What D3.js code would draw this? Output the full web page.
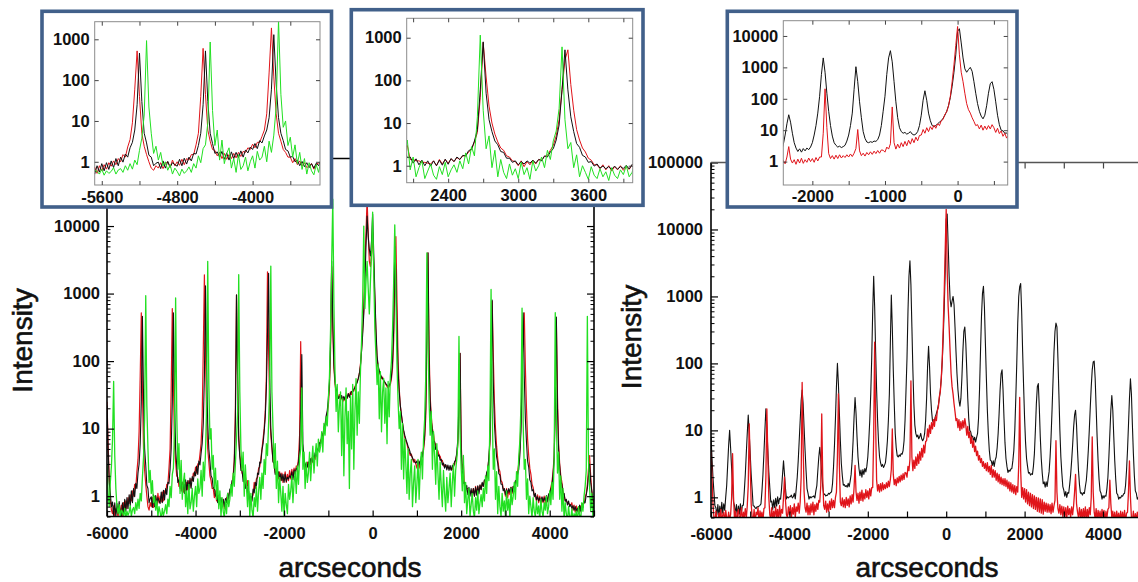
<!DOCTYPE html>
<html>
<head>
<meta charset="utf-8">
<title>Intensity vs arcseconds</title>
<script src="https://cdn.jsdelivr.net/npm/d3@7"></script>
<style>
  html, body { margin: 0; padding: 0; background: #fff; }
  svg { display: block; }
  .tick text { font-family: "Liberation Sans", Arial, Helvetica, sans-serif; font-weight: bold; font-size: 16.5px; fill: #111; }
  .title { font-family: "Liberation Sans", Arial, Helvetica, sans-serif; font-size: 28px; fill: #111; stroke: #111; stroke-width: 0.6px; }
</style>
</head>
<body>
<svg id="chart" width="1138" height="582"></svg>
<script>
// Spectra sampled every 25 arcsec; each row holds 20 samples (500 arcsec), rows start at -6000.
const X0 = -6000, ROW_SPAN = 500, STEP = 25;

// Left panel: three scans (red, black, green)
const leftRed = [
  [25,6,1.8,0.9,0.62,0.55,0.72,0.5,0.66,0.58,0.5,0.7,0.56,0.74,0.52,0.8,0.6,0.85,0.66,0.95],
  [0.78,1.05,0.85,1.2,1.0,1.5,1.3,2.3,3.5,9,60,520,40,5,2.4,1.5,1.0,0.7,0.62,0.8],
  [0.7,0.95,0.68,0.9,1.0,0.72,1.1,0.8,1.0,0.82,1.15,0.85,1.2,1.1,1.5,1.5,2.6,5,40,600],
  [45,6,3.2,2.0,1.9,1.4,1.7,1.2,1.6,1.15,1.5,1.2,1.6,1.25,1.7,1.35,1.8,1.7,2.2,2.0],
  [2.7,2.2,3.0,3.0,4.2,6,15,150,1900,120,15,5,3.2,2.0,1.7,1.3,1.3,0.95,1.2,0.85],
  [1.05,0.8,0.95,0.72,0.8,0.9,0.66,0.85,0.95,0.78,1.05,1.2,1.25,1.6,2.0,3.5,20,950,60,8],
  [4,3.2,2.2,2.1,1.6,2.0,1.4,1.7,1.05,0.82,0.75,0.95,1.05,1.6,1.3,1.8,1.9,2.6,2.7,3.6],
  [5,7,10,18,60,2100,150,20,8,5.2,3.3,3.0,2.2,2.1,2.4,1.8,2.3,1.7,2.2,1.6],
  [1.9,2.3,1.6,2.1,1.7,2.4,1.8,2.5,1.9,2.6,2.1,2.8,2.7,3.6,8,195,9,4.2,3.0,2.9],
  [2.5,3.2,2.6,3.4,2.9,3.7,3.2,4.0,3.5,4.4,4.3,5.3,5.3,6.8,6.8,8.4,8.8,11.5,12.5,16.5],
  [22,40,150,2500,300,80,45,35,30,28,32,27,30,25,29,26,31,28,33,30],
  [35,32,38,36,42,45,50,55,65,90,150,300,600,3000,8000,25000,8000,3000,2500,4000],
  [8000,2500,800,250,110,80,70,62,55,58,50,48,45,42,40,42,45,55,80,200],
  [1500,7000,800,100,40,22,16,12,9,7.5,6.5,6,5,4.5,4,4.2,3.6,3.2,3.5,3.0],
  [2.6,3.4,2.6,3.2,3.4,4.2,4.8,7,15,200,4000,150,30,15,10,8.4,6.2,5.8,4.8,4.7],
  [4.0,3.9,3.3,3.4,2.8,2.9,2.8,2.8,2.6,2.7,2.5,2.6,2.5,3.0,2.9,3.5,4,6,15,130],
  [6,2.5,3.0,1.4,1.4,1.3,1.3,1.2,1.2,1.15,1.1,1.3,1.0,1.4,1.1,1.4,1.15,1.45,1.25,1.55],
  [1.4,1.7,1.7,2.1,2.4,3.6,6,40,770,120,25,10,5.5,3.6,2.6,2.3,1.7,1.6,1.3,1.25],
  [1.0,1.3,0.95,1.25,1.05,1.35,1.1,1.4,1.35,1.65,1.75,2.3,3.0,5,12,60,300,520,80,20],
  [7,4,2.6,2.1,1.5,1.35,1.05,1.05,0.85,1.05,0.8,1.0,0.75,0.95,0.8,1.0,0.78,0.95,0.82,1.05],
  [1.1,1.35,1.6,2.3,4,30,370,30,6,3,2,1.6,1.15,1.05,0.85,0.85,0.8,0.78,0.75,0.74],
  [0.8,0.62,0.74,0.58,0.72,0.6,0.7,0.57,0.72,0.63,0.78,0.78,0.95,1.1,1.5,2.5,4,2,1.2,0.9],
  [0.8]
];

const leftBlack = [
  [22,5,1.6,1.1,0.7,0.82,0.52,0.8,0.5,0.78,0.55,0.83,0.58,0.5,0.8,0.56,0.9,0.6,0.95,0.65],
  [1.05,0.72,1.2,0.8,1.3,0.98,1.55,1.3,2.2,3,6,25,460,30,5,2.9,1.45,1.3,0.8,0.92],
  [0.98,0.68,1.05,0.7,1.02,0.74,0.95,0.85,0.78,1.15,0.8,1.22,0.88,1.3,1.05,1.6,1.55,2.5,5,25],
  [520,30,5,2.8,1.6,1.75,1.3,1.8,1.15,1.65,1.1,1.75,1.2,1.7,1.25,1.85,1.3,1.95,1.65,2.3],
  [2.0,2.8,2.1,3.3,2.9,4.3,6,12,60,1300,80,12,5,3.3,2.0,1.85,1.3,1.35,1.0,1.1],
  [0.8,1.02,0.76,0.95,0.72,0.9,0.7,0.92,0.8,1.1,0.92,1.28,1.15,1.7,1.7,3.2,12,960,50,7],
  [3.8,2.4,2.4,1.65,1.85,1.3,1.6,1.05,1.18,0.78,1.0,0.84,1.28,1.12,1.6,1.4,2.2,2.1,3.2,3.1],
  [4.8,6,9,15,40,250,2000,60,10,5.5,3.2,3.1,2.1,2.35,1.85,2.3,1.75,2.15,1.7,2.1],
  [1.6,2.1,1.65,1.9,1.8,2.0,1.9,2.3,1.75,2.45,2.1,2.6,2.45,3.2,5,20,125,6,3.7,2.7],
  [3.1,2.7,3.2,2.9,3.6,3.1,3.9,3.5,4.4,3.9,5.0,4.8,6.2,6.0,7.8,8.0,10.5,11.5,15.5,18.5],
  [28,50,200,3000,400,90,50,38,34,28,30,27.5,31,26,30,27,31,28.5,33,29],
  [33,35.5,35,38.5,40,44,48,55,65,85,140,250,500,1500,5000,14000,7000,4500,3600,6000],
  [15000,4000,1000,300,120,85,72,64,58,55,52,49,46,44,42,44,48,60,100,300],
  [5000,2000,300,70,35,22,16,12,9.5,8,7,6.2,5.5,5,4.4,4.0,3.7,3.4,3.2,3.1],
  [3.3,2.8,3.3,2.9,3.9,3.8,5.3,8,20,300,4000,100,25,13,9.5,6.6,6.4,4.9,4.9,3.9],
  [4.1,3.4,3.5,2.9,3.1,2.6,2.95,2.45,2.9,2.4,2.85,2.4,2.85,2.65,3.25,3.4,4.4,7,25,130],
  [5,2.4,1.55,1.6,1.15,1.45,1.05,1.35,1.0,1.3,0.98,1.3,1.0,1.35,1.03,1.42,1.08,1.47,1.25,1.6],
  [1.4,1.75,1.7,2.25,2.45,3.8,7,60,800,50,12,6.3,3.8,3.1,2.15,2.05,1.5,1.5,1.2,1.3],
  [1.05,1.25,1.1,1.3,1.15,1.35,1.15,1.4,1.3,1.7,1.6,2.1,2.5,4,9,60,520,60,14,6.3],
  [3.3,2.7,1.75,1.6,1.2,1.25,0.98,1.1,0.88,0.98,0.85,0.95,0.82,0.98,0.83,0.95,0.86,1.02,0.84,1.08],
  [0.98,1.28,1.4,2.1,3.5,20,450,20,5,2.8,1.65,1.5,1.05,1.1,0.84,0.9,0.74,0.85,0.7,0.75],
  [0.66,0.72,0.62,0.7,0.6,0.66,0.55,0.74,0.6,0.78,0.68,0.84,0.8,1.05,1.3,2,3,1.6,1.2,0.85],
  [0.85]
];

const leftGreen = [
  [3,1.1,0.7,1.6,2.8,7,50,4,1.3,0.7,0.55,0.75,0.48,0.62,0.58,0.5,0.66,0.47,0.6,0.52],
  [0.58,0.72,0.5,0.63,0.68,0.55,0.8,0.62,0.9,0.66,1.1,0.85,1.9,3.8,14,930,22,5,1.6,2.4],
  [1.1,1.7,0.8,1.0,0.62,0.85,0.5,0.7,0.58,0.45,0.66,0.52,0.6,0.75,0.55,0.9,0.7,1.4,0.95,2.1],
  [2.6,9,860,18,2.5,6,1.1,3.4,0.9,1.6,2.2,0.7,1.2,0.55,1.5,0.65,0.8,1.3,0.6,1.0],
  [1.4,0.7,1.8,1.1,1.3,2.4,1.0,3.2,1.7,4.5,22,3000,45,7,10,2.5,4,1.3,2.6,0.9],
  [1.7,0.65,1.2,0.5,0.95,0.6,0.48,0.85,0.55,1.1,0.7,0.9,1.5,1.0,2.2,1.4,3,7,18,1900],
  [35,5,2.4,4.5,1.0,2.9,1.4,0.7,1.7,0.5,1.1,0.62,0.48,0.95,0.7,1.4,0.6,1.2,1.9,0.9],
  [2.2,1.3,3.5,2.1,6,4,12,45,2550,35,10,2.6,6,1.3,3.3,0.8,1.9,1.1,0.6,1.4],
  [0.5,1.1,0.75,0.55,1.5,0.9,1.2,2.0,0.8,1.6,2.3,1.1,2.8,1.5,3.6,5,40,2.5,4.5,1.3],
  [3.2,1.6,2.2,4.5,1.7,3.3,5.5,2.2,4,6,2.8,7,4.5,5.5,9,4.5,12,8,15,11],
  [28,60,300,3000,25000,700,70,18,45,9,22,35,4,28,2,15,40,6,18,1.3],
  [30,5,45,2.5,18,55,8,35,12,70,200,800,10000,600,1500,3000,1200,500,1500,4000],
  [16000,2000,300,120,45,90,14,70,9,35,55,12,40,6,50,15,60,100,300,1500],
  [10400,1000,90,25,10,18,2.5,12,1.8,7,3,1.1,5,0.9,2.2,3.5,0.7,1.6,2.8,0.8],
  [1.5,3.5,0.9,2.5,4.5,1.8,7,14,60,4000,220,25,8,18,2.5,9,4,1.5,6,2.2],
  [0.9,3.2,1.4,0.7,2.4,1.1,0.6,1.9,0.8,1.3,2.2,0.7,1.6,3,1.0,2.4,3.5,6,232,9],
  [2.6,1.2,4,0.8,1.6,0.55,0.9,1.3,0.5,0.75,1.1,0.6,0.48,0.95,0.62,1.2,0.55,0.8,1.05,0.7],
  [1.3,0.85,2.0,1.1,2.8,1.7,14,1150,20,2.5,5,0.9,2.3,0.55,1.4,0.7,0.5,1.1,0.6,0.85],
  [0.5,1.2,0.62,0.9,0.48,1.3,0.75,1.0,1.6,0.9,2.3,1.4,3.8,6.5,22,610,12,2.5,3.5,0.9],
  [1.8,0.55,1.0,0.7,0.48,0.95,0.6,0.5,0.85,0.55,0.72,0.45,0.9,0.6,0.5,0.8,0.62,1.0,0.55,0.7],
  [1.2,0.75,1.6,0.9,3.5,520,14,2.2,4.5,0.9,2.0,0.6,1.3,0.45,0.8,0.55,0.42,0.7,0.5,0.45],
  [0.65,0.42,0.55,0.48,0.6,0.4,0.7,0.52,0.45,0.8,0.6,1.0,1.4,2.4,460,3.5,1.4,0.6,1.1,0.5],
  [0.8]
];

// Right panel: two scans (black, red)
const rightBlack = [
  [8,4,2,1.2,0.75,0.7,0.54,0.78,0.52,0.74,0.56,0.84,0.58,0.8,0.64,1.0,1.5,3,6,10],
  [5.5,2.8,1.5,0.85,0.75,0.56,0.78,0.52,0.74,0.56,0.8,0.58,0.76,0.76,1.25,2.2,4.5,9,17,9],
  [4.5,2.2,1.3,0.75,0.74,0.7,0.68,0.72,0.72,0.74,0.76,0.8,1.25,2.2,4.5,10,21,11,5,2.4],
  [1.4,0.85,0.88,0.66,0.92,0.7,0.97,0.74,1.02,0.8,0.97,0.94,1.35,2.2,3.5,2.2,1.35,0.95,1.02,0.98],
  [1.02,1.02,1.08,0.98,1.02,1.15,0.95,1.35,2.0,3.5,7,14,28,40,25,11,5,2.5,1.35,1.15],
  [0.94,1.03,0.98,1.02,1.02,1.05,0.98,1.25,1.5,2.5,4,5.6,3.8,2.2,1.45,1.1,1.12,1.05,1.07,1.08],
  [1.15,1.12,1.18,1.2,1.6,2.8,6,15,45,100,50,18,7,3.2,2.1,1.52,1.55,1.45,1.5,1.42],
  [1.62,1.44,1.75,2.2,3.5,7,16,31,18,8,4,2.7,2.1,2.55,2.0,2.6,2.2,2.7,2.4,2.9],
  [4,7,14,35,120,600,2000,700,150,40,14,6.5,4,3.3,2.9,3.1,2.8,3.0,3.3,4.5],
  [7,14,35,200,1050,350,80,25,9,5.5,4.2,4.0,4.3,4.1,4.5,4.4,5,7,14,40],
  [120,600,2000,3400,1500,350,80,25,12,9,8,8.5,7.5,8,9,7.5,7,7.5,9,14],
  [30,90,180,90,35,20,14,13,14,16,18,20,24,30,40,60,110,250,700,2500],
  [14000,17000,6000,2000,900,700,850,1000,750,350,150,70,40,28,23,30,60,150,300,350],
  [200,80,30,15,10,9.5,8,8.2,6.9,7.9,6.7,7.8,9,15,40,150,500,1100,1420,700],
  [200,60,20,9,5,3.6,3.5,3.0,3.5,2.9,3.6,4,5.5,9,18,40,70,80,40,15],
  [6.5,3.8,2.9,2.35,2.55,2.45,2.65,2.7,3.5,5,10,30,100,400,1000,1400,1560,600,150,45],
  [15,6.5,3.8,2.9,2.3,2.35,2.15,2.25,2.2,2.9,4.5,10,25,45,50,22,8,3.8,2.3,1.6],
  [1.7,1.42,1.7,1.45,1.9,2.4,4,8,20,55,150,300,400,350,120,35,10,4,2.3,1.45],
  [1.28,1.04,1.22,1.0,1.18,1.15,1.55,2.2,3.5,6,11,17,20,12,5,2.5,1.55,1.15,1.17,1.08],
  [1.18,1.14,1.45,1.8,2.8,5,10,22,45,80,105,108,60,22,8,3.5,1.85,1.25,1.15,0.94],
  [1.06,0.98,1.06,1.04,1.35,2,4,9,20,33,20,8,3.5,1.85,1.15,1.1,0.94,1.0,0.98,1.06],
  [1.04,1.12,1.15,1.5,2.5,5,12,30,59,35,12,4.5,2.1,1.25,1.15,0.94,1.0,0.92,1.04,0.95],
  [1.0]
];

const rightRed = [
  [5,2,0.8,0.5,0.42,0.62,0.47,0.38,0.58,0.5,0.66,0.42,0.55,0.6,0.4,0.64,0.5,0.44,0.6,0.46],
  [0.55,0.95,4.5,1.0,0.45,0.62,0.4,0.58,0.66,0.45,0.52,0.7,0.43,0.6,0.5,0.68,0.48,0.75,1.5,12.5],
  [3,0.8,0.5,0.44,0.66,0.4,0.6,0.55,0.7,0.42,0.63,0.5,0.6,0.44,0.68,0.7,2,21,4,1.0],
  [0.55,0.48,0.7,0.45,0.62,0.5,0.72,0.5,0.66,0.44,0.75,0.52,0.66,0.58,1.0,2.0,0.9,0.55,0.5,0.72],
  [0.55,0.75,0.48,0.7,0.56,0.8,0.5,0.72,0.62,0.82,0.58,0.85,2,52,6,1.2,0.7,0.6,0.82,0.55],
  [0.75,0.55,0.8,0.6,0.85,0.55,0.78,0.62,0.82,0.66,0.9,0.85,1.5,17.6,2,0.75,0.66,0.88,0.6,0.8],
  [0.62,0.88,0.66,0.95,0.7,0.9,0.7,1.0,1.2,4,35,3,0.85,0.75,0.98,0.72,0.92,0.7,1.0,0.76],
  [0.95,0.72,1.05,0.8,1.1,0.85,1.4,3,1.2,0.9,1.15,0.82,1.2,0.9,1.28,0.88,1.15,0.95,1.3,1.0],
  [1.25,0.95,1.35,1.05,1.4,1.4,8,208,12,1.8,1.25,1.55,1.2,1.6,1.25,1.65,1.3,1.55,1.35,1.65],
  [1.4,1.75,1.45,1.85,2.6,10.5,2.2,1.55,1.85,1.5,1.95,1.65,2.05,1.7,2.15,1.8,2.25,1.85,2.35,2.3],
  [2.0,2.9,2.5,3.7,55,4,2.5,3.6,2.7,4.0,3.0,4.4,3.2,4.8,3.6,5.4,4.0,6.0,4.6,6.8],
  [7,10.5,8,12,9,13,10.5,14.5,11.5,16,14,20,22,32,38,60,120,350,1200,5000],
  [20000,2500,700,350,150,70,45,35,25,19,14,15,11,14.5,10,13.5,10.5,14,11,15],
  [12,8.5,11.5,7.8,9.5,6.4,8,5.6,7,4.8,5.8,4.2,4.9,3.6,4.2,3.3,3.8,2.9,3.4,2.7],
  [3.2,2.5,3.3,2.4,2.9,2.2,3.0,2.0,2.6,2.0,2.5,1.8,2.3,1.7,2.2,1.6,2.0,1.55,1.9,1.5],
  [1.9,1.45,1.8,1.35,1.7,1.25,1.65,1.2,1.55,1.15,1.5,1.1,1.45,1.2,3,31,2.5,1.0,1.4,0.95],
  [1.35,0.85,1.3,0.8,1.2,0.75,1.15,0.72,1.1,0.68,1.05,0.66,1.0,0.62,0.98,0.6,0.95,0.58,0.92,0.56],
  [0.85,0.62,0.82,0.6,0.8,0.6,0.78,0.57,0.82,0.6,0.75,0.9,7,1.2,0.68,0.58,0.78,0.55,0.74,0.52],
  [0.72,0.5,0.7,0.48,0.74,0.55,0.68,0.5,0.72,0.55,0.75,1.2,2.2,0.8,0.6,0.5,0.7,0.48,0.66,0.46],
  [0.68,0.48,0.72,0.45,0.66,0.5,0.7,0.55,1.0,8,1.2,0.6,0.48,0.68,0.44,0.64,0.5,0.62,0.45,0.66],
  [0.5,0.64,0.44,0.62,0.5,0.66,0.7,1.8,0.8,0.5,0.62,0.45,0.6,0.42,0.62,0.47,0.58,0.43,0.62,0.45],
  [0.6,0.44,0.64,0.42,0.58,0.6,1.2,3.5,1.0,0.5,0.45,0.62,0.42,0.57,0.45,0.6,0.42,0.56,0.45,0.58],
  [0.5]
];

// Tick labels
const mainXLabels = [-6000, -4000, -2000, 0, 2000, 4000];
const leftYLabels = [1, 10, 100, 1000, 10000];
const rightYLabels = [1, 10, 100, 1000, 10000, 100000];
const inset1XLabels = [-5600, -4800, -4000];
const inset2XLabels = [2400, 3000, 3600];
const inset3XLabels = [-2000, -1000, 0];
const inset12YLabels = [1, 10, 100, 1000];
const inset3YLabels = [1, 10, 100, 1000, 10000];

const COLORS = { red: "#e0141a", black: "#111111", green: "#22e022", frame: "#000", insetBorder: "#41608a", insetFrame: "#8c8c8c" };

function toPoints(rows) {
  return rows.flatMap((row, r) => row.map((v, i) => [X0 + r * ROW_SPAN + i * STEP, v]));
}
const series = {
  leftRed: toPoints(leftRed), leftBlack: toPoints(leftBlack), leftGreen: toPoints(leftGreen),
  rightBlack: toPoints(rightBlack), rightRed: toPoints(rightRed)
};

const svg = d3.select("#chart");
const defs = svg.append("defs");
let clipCount = 0;

function scalesFor(p) {
  return {
    x: d3.scaleLinear().domain(p.xDomain).range([p.left, p.right]),
    y: d3.scaleLog().domain(p.yDomain).range([p.bottom, p.top])
  };
}

function logSteps(domain) {
  const out = [];
  for (let e = -1; e <= 5; e++) {
    for (let k = 1; k < 10; k++) {
      const v = k * Math.pow(10, e);
      if (v >= domain[0] * 0.999 && v <= domain[1] * 1.001) out.push({ v, major: k === 1 });
    }
  }
  return out;
}

function drawLines(g, p, s, list) {
  const id = "plotclip" + (clipCount++);
  defs.append("clipPath").attr("id", id).append("rect")
    .attr("x", p.left).attr("y", p.top)
    .attr("width", p.right - p.left).attr("height", p.bottom - p.top);
  const line = d3.line().x(d => s.x(d[0])).y(d => s.y(d[1]));
  const lg = g.append("g").attr("clip-path", `url(#${id})`);
  list.forEach(item => {
    const pts = item.data.filter(d => d[0] >= p.xDomain[0] - 60 && d[0] <= p.xDomain[1] + 60);
    lg.append("path")
      .attr("d", line(pts))
      .attr("fill", "none")
      .attr("stroke", item.color)
      .attr("stroke-width", item.width || 1)
      .attr("stroke-linejoin", "round");
  });
}

function styleAxis(sel, color, width) {
  sel.select(".domain").remove();
  sel.attr("font-size", null).attr("font-family", null);
  sel.selectAll(".tick line").attr("stroke", color).attr("stroke-width", width);
  sel.selectAll(".tick text").attr("fill", "#111");
}

// ---------- main panels ----------
function drawMain(p) {
  const s = scalesFor(p);
  const g = svg.append("g");
  drawLines(g, p, s, p.lines);

  const xTicks = d3.range(-6000, 5001, 1000);
  const bottom = g.append("g").attr("transform", `translate(0,${p.bottom})`)
    .call(d3.axisBottom(s.x).tickValues(xTicks).tickSizeInner(-6).tickSizeOuter(0)
      .tickPadding(p.xPad).tickFormat(d => mainXLabels.includes(d) ? String(d) : ""));
  styleAxis(bottom, "#000", 1.2);

  const ySteps = logSteps(p.yDomain);
  const majors = ySteps.filter(d => d.major).map(d => d.v);
  const minors = ySteps.filter(d => !d.major).map(d => d.v);

  const leftMajor = g.append("g").attr("transform", `translate(${p.left},0)`)
    .call(d3.axisLeft(s.y).tickValues(majors).tickSizeInner(-7).tickSizeOuter(0)
      .tickPadding(p.yPad).tickFormat(d => p.yLabels.includes(d) ? String(d) : ""));
  styleAxis(leftMajor, "#000", 1.2);
  const leftMinor = g.append("g").attr("transform", `translate(${p.left},0)`)
    .call(d3.axisLeft(s.y).tickValues(minors).tickSizeInner(-3.5).tickSizeOuter(0).tickFormat(""));
  styleAxis(leftMinor, "#000", 1);

  if (p.rightAxis) {
    const rMajor = g.append("g").attr("transform", `translate(${p.right},0)`)
      .call(d3.axisRight(s.y).tickValues(majors).tickSizeInner(-7).tickSizeOuter(0).tickFormat(""));
    styleAxis(rMajor, "#000", 1.2);
    const rMinor = g.append("g").attr("transform", `translate(${p.right},0)`)
      .call(d3.axisRight(s.y).tickValues(minors).tickSizeInner(-3.5).tickSizeOuter(0).tickFormat(""));
    styleAxis(rMinor, "#000", 1);
  }
  if (p.topTicks) {
    const top = g.append("g").attr("transform", `translate(0,${p.top})`)
      .call(d3.axisTop(s.x).tickValues(xTicks).tickSizeInner(-6).tickSizeOuter(0).tickFormat(""));
    styleAxis(top, "#444", 1.2);
  }

  // frame
  const fr = g.append("g").attr("stroke", COLORS.frame).attr("stroke-width", 1.6).attr("fill", "none");
  fr.append("line").attr("x1", p.left).attr("x2", p.left).attr("y1", p.top).attr("y2", p.bottom);
  fr.append("line").attr("x1", p.left).attr("x2", p.right).attr("y1", p.bottom).attr("y2", p.bottom);
  fr.append("line").attr("x1", p.left).attr("x2", p.right).attr("y1", p.top).attr("y2", p.top)
    .attr("stroke", p.topColor || "#000").attr("stroke-width", 1.3);
  if (p.rightAxis) fr.append("line").attr("x1", p.right).attr("x2", p.right).attr("y1", p.top).attr("y2", p.bottom);

  // axis titles
  svg.append("text").attr("class", "title")
    .attr("transform", `translate(${p.yTitle[0]},${p.yTitle[1]}) rotate(-90)`)
    .attr("text-anchor", "middle").attr("dominant-baseline", "central").text("Intensity");
  svg.append("text").attr("class", "title")
    .attr("x", p.xTitle[0]).attr("y", p.xTitle[1]).attr("text-anchor", "middle").text("arcseconds");
}

drawMain({
  left: 107, right: 594, top: 158.5, bottom: 516.5,
  xDomain: [-6000, 5000], yDomain: [0.5, 100000],
  yLabels: leftYLabels, xPad: 10.5, yPad: 7,
  rightAxis: true, topTicks: false,
  yTitle: [22.5, 340.5], xTitle: [350, 577],
  lines: [
    { data: series.leftRed, color: COLORS.red, width: 1.2 },
    { data: series.leftBlack, color: COLORS.black, width: 1.1 },
    { data: series.leftGreen, color: COLORS.green, width: 1.3 }
  ]
});

drawMain({
  left: 711, right: 1142.2, top: 162.5, bottom: 517.5,
  xDomain: [-6000, 5000], yDomain: [0.5, 100000],
  yLabels: rightYLabels, xPad: 11, yPad: 8,
  rightAxis: false, topTicks: true, topColor: "#555",
  yTitle: [631, 337], xTitle: [927, 577],
  lines: [
    { data: series.rightBlack, color: COLORS.black, width: 1.1 },
    { data: series.rightRed, color: COLORS.red, width: 1.3 }
  ]
});

// ---------- insets ----------
function drawInset(p) {
  const g = svg.append("g");
  g.append("rect")
    .attr("x", p.box[0]).attr("y", p.box[1])
    .attr("width", p.box[2] - p.box[0]).attr("height", p.box[3] - p.box[1])
    .attr("fill", "#fff").attr("stroke", COLORS.insetBorder).attr("stroke-width", 3.6);
  const s = scalesFor(p);
  drawLines(g, p, s, p.lines);

  g.append("rect").attr("x", p.left).attr("y", p.top)
    .attr("width", p.right - p.left).attr("height", p.bottom - p.top)
    .attr("fill", "none").attr("stroke", COLORS.insetFrame).attr("stroke-width", 1);

  const b = g.append("g").attr("transform", `translate(0,${p.bottom})`)
    .call(d3.axisBottom(s.x).tickValues(p.xTicks).tickSizeInner(-4).tickSizeOuter(0)
      .tickPadding(p.xPad).tickFormat(d => p.xLabels.includes(d) ? String(d) : ""));
  styleAxis(b, "#444", 1);
  const t = g.append("g").attr("transform", `translate(0,${p.top})`)
    .call(d3.axisTop(s.x).tickValues(p.xTicks).tickSizeInner(-4).tickSizeOuter(0).tickFormat(""));
  styleAxis(t, "#444", 1);
  const l = g.append("g").attr("transform", `translate(${p.left},0)`)
    .call(d3.axisLeft(s.y).tickValues(p.yLabels).tickSizeInner(-4).tickSizeOuter(0)
      .tickPadding(5).tickFormat(d => String(d)));
  styleAxis(l, "#444", 1);
  const r = g.append("g").attr("transform", `translate(${p.right},0)`)
    .call(d3.axisRight(s.y).tickValues(p.yLabels).tickSizeInner(-4).tickSizeOuter(0).tickFormat(""));
  styleAxis(r, "#444", 1);
}

drawInset({
  box: [42, 11.3, 331.5, 207],
  left: 94.7, right: 320, top: 21.7, bottom: 185,
  xDomain: [-5675, -3285], yDomain: [0.27, 2700],
  xTicks: d3.range(-5600, -3285, 400), xLabels: inset1XLabels, yLabels: inset12YLabels, xPad: 6,
  lines: [
    { data: series.leftRed, color: COLORS.red },
    { data: series.leftBlack, color: COLORS.black },
    { data: series.leftGreen, color: COLORS.green }
  ]
});

drawInset({
  box: [351.3, 9.7, 643, 205.3],
  left: 406.7, right: 632.7, top: 18.3, bottom: 182.7,
  xDomain: [2045, 3980], yDomain: [0.4, 2850],
  xTicks: d3.range(2100, 3981, 300), xLabels: inset2XLabels, yLabels: inset12YLabels, xPad: 6.5,
  lines: [
    { data: series.leftRed, color: COLORS.red },
    { data: series.leftBlack, color: COLORS.black },
    { data: series.leftGreen, color: COLORS.green }
  ]
});

drawInset({
  box: [727.3, 11.3, 1017, 207],
  left: 783.3, right: 1007.7, top: 20.7, bottom: 185,
  xDomain: [-2400, 690], yDomain: [0.18, 30600],
  xTicks: d3.range(-2000, 691, 500), xLabels: inset3XLabels, yLabels: inset3YLabels, xPad: 5.5,
  lines: [
    { data: series.rightBlack, color: COLORS.black },
    { data: series.rightRed, color: COLORS.red }
  ]
});
</script>
</body>
</html>
